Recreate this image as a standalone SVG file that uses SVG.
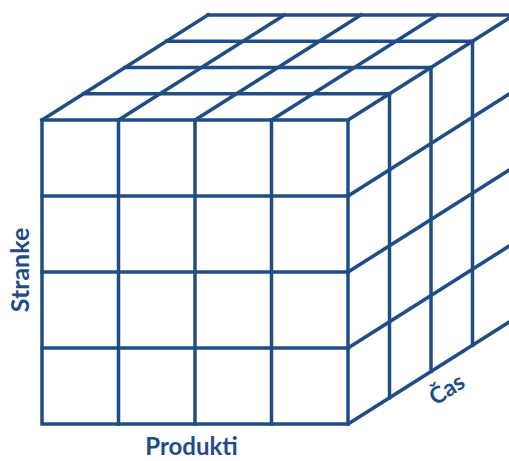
<svg xmlns="http://www.w3.org/2000/svg" width="509" height="461" viewBox="0 0 509 461">
  <style>
    .grid { fill: none; stroke: #214d86; stroke-width: 3.5; stroke-linecap: square; }
    .label { fill: #214d86; font-family: Lato, "Open Sans", "Liberation Sans", sans-serif; font-weight: bold; }
  </style>
  <rect width="509" height="461" fill="#ffffff"/>

  <!-- Top face: depth step (41.5, -26.25) x 4 -->
  <g id="top-face" class="grid">
    <line x1="83.5" y1="93.75" x2="389.5" y2="93.75"/>
    <line x1="125" y1="67.5" x2="431" y2="67.5"/>
    <line x1="166.5" y1="41.25" x2="472.5" y2="41.25"/>
    <line x1="208" y1="15" x2="514" y2="15"/>
    <line x1="42" y1="120" x2="208" y2="15"/>
    <line x1="118.5" y1="120" x2="284.5" y2="15"/>
    <line x1="195" y1="120" x2="361" y2="15"/>
    <line x1="271.5" y1="120" x2="437.5" y2="15"/>
  </g>

  <!-- Right face -->
  <g id="right-face" class="grid">
    <line x1="389.5" y1="93.75" x2="389.5" y2="397.75"/>
    <line x1="431" y1="67.5" x2="431" y2="371.5"/>
    <line x1="472.5" y1="41.25" x2="472.5" y2="345.25"/>
    <line x1="348" y1="120" x2="514" y2="15"/>
    <line x1="348" y1="196" x2="514" y2="91"/>
    <line x1="348" y1="272" x2="514" y2="167"/>
    <line x1="348" y1="348" x2="514" y2="243"/>
    <line x1="348" y1="424" x2="514" y2="319"/>
  </g>

  <!-- Front face: 4 x 4 cells -->
  <g id="front-face" class="grid">
    <rect x="42" y="120" width="306" height="304"/>
    <line x1="118.5" y1="120" x2="118.5" y2="424"/>
    <line x1="195" y1="120" x2="195" y2="424"/>
    <line x1="271.5" y1="120" x2="271.5" y2="424"/>
    <line x1="42" y1="196" x2="348" y2="196"/>
    <line x1="42" y1="272" x2="348" y2="272"/>
    <line x1="42" y1="348" x2="348" y2="348"/>
  </g>

  <!-- Axis labels -->
  <g id="labels">
    <text class="label" x="191.5" y="455" font-size="24" text-anchor="middle">Produkti</text>
    <text class="label" x="0" y="0" font-size="25" text-anchor="middle" transform="translate(28.5,270) rotate(-90)">Stranke</text>
    <text class="label" x="0" y="0" font-size="23" text-anchor="middle" transform="translate(451,396) rotate(-32.3)">Čas</text>
  </g>
</svg>
